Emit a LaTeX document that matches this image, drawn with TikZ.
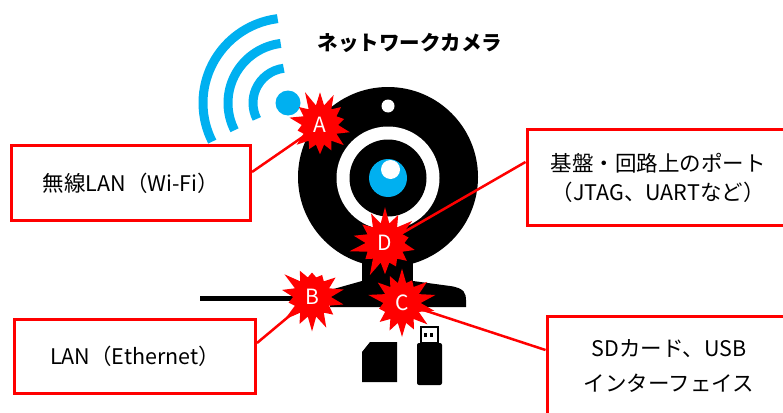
\documentclass[tikz,border=0pt]{standalone}
\usepackage{fontspec}
\setmainfont{Noto Sans CJK JP}
\usetikzlibrary{shapes.symbols}
\definecolor{wifiBlue}{HTML}{00B0F0}
\definecolor{alertRed}{HTML}{FF0000}

\begin{document}
\begin{tikzpicture}[x=1pt,y=-1pt,
  infobox/.style={draw=alertRed,line width=3pt,fill=white,align=center,inner sep=0pt,
    font=\fontsize{21.5}{29}\selectfont},
  burst/.style={starburst,fill=alertRed,text=white,starburst points=14,
    starburst point height=17pt,inner sep=6.5pt,
    font=\fontsize{21}{21}\selectfont},
  link/.style={alertRed,line width=2.5pt},
  wave/.style={wifiBlue,line width=9pt}]
\useasboundingbox (0,0) rectangle (783,412);
\clip (0,0) rectangle (783,412);

% --- title ---
\node[font=\fontsize{20.5}{20.5}\selectfont\bfseries] (title) at (410,43) {ネットワークカメラ};

% --- wifi waves ---
\fill[wifiBlue] (288,103) circle[radius=12.5];
\foreach \r in {35,60,85}
  \draw[wave] (288,103) ++(-97:\r) arc[start angle=-97,end angle=-207,radius=\r];

% --- camera ---
\fill (388,177) circle[radius=90];
\fill (362,240) rectangle (413,285);
\fill (330,290) -- (362,281) -- (413,281) -- (450,286)
  .. controls (465,288) and (466,294) .. (466,300) -- (466,307) -- (330,307) -- cycle;
\fill[white] (388,178) circle[radius=51.5];
\fill (388,178) circle[radius=38.5];
\fill[wifiBlue] (388,178) circle[radius=19];
\fill[white] (390.5,169.5) circle[radius=9.5];
\fill[white] (388,106) circle[radius=6.5];
% cable
\draw[line width=5pt] (200,298) -- (335,298);

% --- SD card, USB stick ---
\fill (370,342) -- (397,342) -- (397,382) -- (362,382) -- (362,352) -- cycle;
\fill[rounded corners=2pt] (417,343) rectangle (442,385);
\draw[line width=2pt,fill=white] (421,327) rectangle (438,343);
\fill (424,333) rectangle (427,337);
\fill (430,333) rectangle (433,337);

% --- labels ---
\node[infobox,minimum width=239,minimum height=75] (wifi) at (131,183)
  {\raisebox{-4pt}{無線LAN（Wi-Fi）}};
\node[infobox,minimum width=262,minimum height=96] (port) at (658,177.5)
  {基盤・回路上のポート\\（JTAG、UARTなど）};
\node[infobox,minimum width=241,minimum height=74] (lan) at (135,356.5)
  {LAN（Ethernet）};
\node[infobox,minimum width=244,minimum height=100] (media) at (669,366)
  {SDカード、USB\\[6pt]インターフェイス};

% --- attack points ---
\coordinate (pA) at (320,125);
\coordinate (pB) at (312,297);
\coordinate (pC) at (402,303);
\coordinate (pD) at (385,243);
\draw[link] ([yshift=11pt]wifi.east) -- (pA);
\draw[link] ([yshift=13.5pt]lan.east) -- (pB);
\draw[link] ([yshift=16pt]media.west) -- (pC);
\draw[link] ([yshift=15.5pt]port.west) -- (pD);
\node[burst,random starburst=11] (A) at (pA) {A};
\node[burst,random starburst=23] (B) at (pB) {B};
\node[burst,random starburst=37] (C) at (pC) {C};
\node[burst,random starburst=53] (D) at (pD) {D};
\end{tikzpicture}
\end{document}
